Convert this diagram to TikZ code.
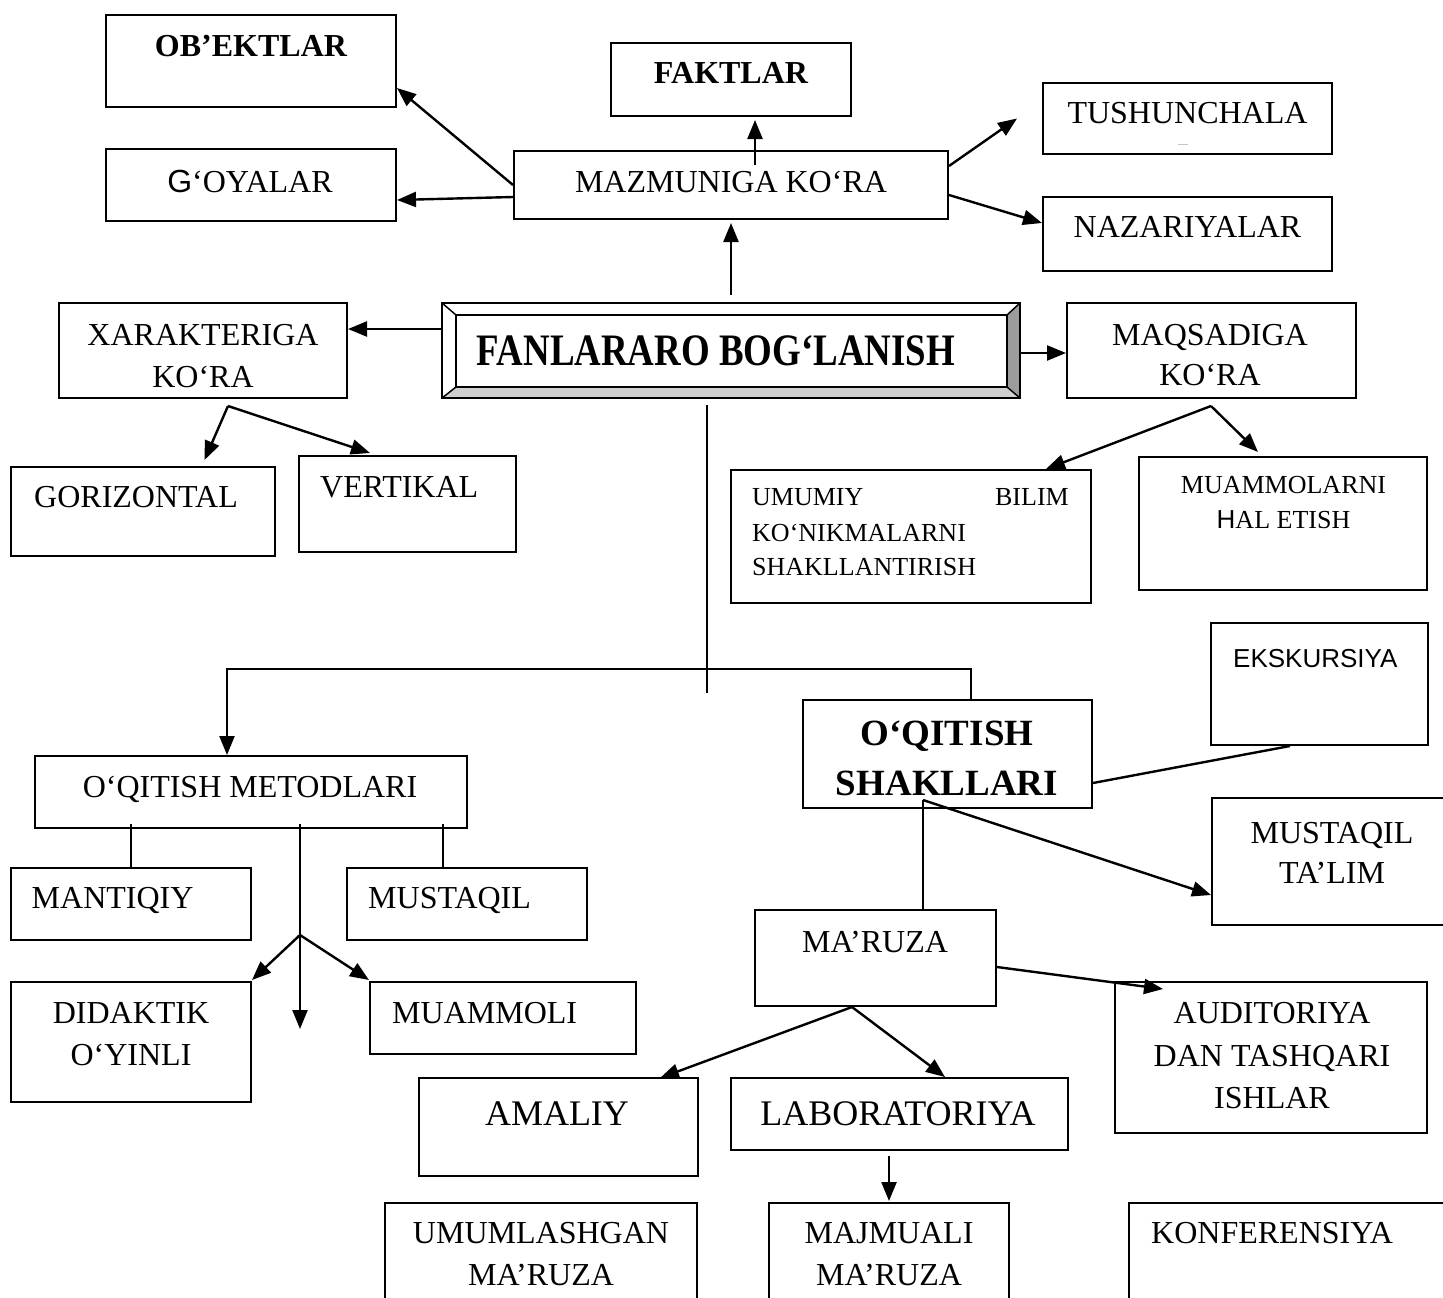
\documentclass[tikz,border=0pt]{standalone}
\usepackage{fontspec}
\usepackage{graphicx}
\setmainfont{Liberation Serif}
\setsansfont{Liberation Sans}
\usetikzlibrary{arrows.meta,fit}
\definecolor{bevdark}{HTML}{9C9C9C}
\definecolor{bevlight}{HTML}{D0D0D0}
\newcommand\fsN{\fontsize{32}{38}\selectfont}
\newcommand\fsS{\fontsize{26}{31}\selectfont}
\newcommand\fsL{\fontsize{36}{43}\selectfont}
\newcommand\fsB{\fontsize{37}{44}\selectfont\bfseries}
\newcommand\fsNB{\fontsize{32}{38}\selectfont\bfseries}
\tikzset{
  box/.style={draw, line width=2pt, inner sep=0pt},
  conn/.style={line width=2.4pt},
  arr/.style={conn, -{Triangle[length=19pt,width=15pt]}},
  txt/.style={inner sep=0pt, anchor=base, font=\fsN},
}
\newcommand\bx[5]{\node[box, fit={(#2,#3) (#4,#5)}] (#1) {};}
\begin{document}
\begin{tikzpicture}[x=1pt,y=-1pt]
\useasboundingbox (0,0) rectangle (1443,1298);
\clip (0,0) rectangle (1443,1298);
% ---------- boxes ----------
\bx{obek}{106}{15}{396}{107}
\bx{fakt}{611}{43}{851}{116}
\bx{tush}{1043}{83}{1332}{154}
\bx{goya}{106}{149}{396}{221}
\bx{mazm}{514}{151}{948}{219}
\bx{naza}{1043}{197}{1332}{271}
\bx{xar}{59}{303}{347}{398}
\bx{maq}{1067}{303}{1356}{398}
\bx{gor}{11}{467}{275}{556}
\bx{ver}{299}{456}{516}{552}
\bx{umu}{731}{470}{1091}{603}
\bx{muam}{1139}{457}{1427}{590}
\bx{eks}{1211}{623}{1428}{745}
\bx{shak}{803}{700}{1092}{808}
\bx{met}{35}{756}{467}{828}
\bx{man}{11}{868}{251}{940}
\bx{mus}{347}{868}{587}{940}
\bx{mta}{1212}{798}{1460}{925}
\bx{mar}{755}{910}{996}{1006}
\bx{did}{11}{982}{251}{1102}
\bx{muo}{370}{982}{636}{1054}
\bx{aud}{1115}{982}{1427}{1133}
\bx{ama}{419}{1078}{698}{1176}
\bx{lab}{731}{1078}{1068}{1150}
\bx{uml}{385}{1203}{697}{1320}
\bx{maj}{769}{1203}{1009}{1320}
\bx{kon}{1129}{1203}{1460}{1320}
% ---------- central bevelled box ----------
\node[inner sep=0pt, fit={(442,303) (1020,398)}] (fan) {};
\coordinate (fi1) at (456,315);
\coordinate (fi2) at (1007,315);
\coordinate (fi3) at (1007,387);
\coordinate (fi4) at (456,387);
\fill[white] (fan.north west) -- (fan.north east) -- (fi2) -- (fi1) -- cycle;
\fill[bevdark] (fan.north east) -- (fan.south east) -- (fi3) -- (fi2) -- cycle;
\fill[bevlight] (fan.south east) -- (fan.south west) -- (fi4) -- (fi3) -- cycle;
\draw[line width=2pt] (fan.north west) rectangle (fan.south east);
\draw[line width=2pt] (fi1) rectangle (fi3);
\draw[line width=1.5pt] (fan.north west) -- (fi1) (fan.north east) -- (fi2)
  (fan.south east) -- (fi3) (fan.south west) -- (fi4);
\node[txt, font=\fontsize{45}{54}\selectfont\bfseries] (fantext) at (716,365)
  {\scalebox{0.82}[1]{FANLARARO BOG‘LANISH}};
% ---------- texts ----------
\node[txt, font=\fsNB] (t-obek) at (251,57) {OB’EKTLAR};
\node[txt, font=\fsNB] (t-fakt) at (731,83) {FAKTLAR};
\node[txt] (t-tush) at (1187.5,123) {TUSHUNCHALA};
\draw[gray!45, line width=1pt] (1178,144) -- (1188,144);
\node[txt] (t-goya) at (250,192) {{\sffamily G}‘OYALAR};
\node[txt] (t-mazm) at (731,192) {MAZMUNIGA KO‘RA};
\node[txt] (t-naza) at (1187.5,237) {NAZARIYALAR};
\node[txt] (t-xar1) at (203,345) {XARAKTERIGA};
\node[txt] (t-xar2) at (203,387) {KO‘RA};
\node[txt] (t-maq1) at (1210,345) {MAQSADIGA};
\node[txt] (t-maq2) at (1210,385) {KO‘RA};
\node[txt, anchor=base west] (t-gor) at (34,507) {GORIZONTAL};
\node[txt, anchor=base west] (t-ver) at (320,497) {VERTIKAL};
\node[txt, font=\fsS, anchor=base west] (t-umu1) at (752,505.5) {UMUMIY};
\node[txt, font=\fsS, anchor=base east] (t-umu2) at (1069,505.5) {BILIM};
\node[txt, font=\fsS, anchor=base west] (t-umu3) at (752,541.5) {KO‘NIKMALARNI};
\node[txt, font=\fsS, anchor=base west] (t-umu4) at (752,575.5) {SHAKLLANTIRISH};
\node[txt, font=\fsS] (t-muam1) at (1283.5,493.5) {MUAMMOLARNI};
\node[txt, font=\fsS] (t-muam2) at (1283.5,528.5) {{\sffamily H}AL ETISH};
\node[txt, font=\fsS\sffamily, anchor=base west] (t-eks) at (1233,667) {EKSKURSIYA};
\node[txt, font=\fsB] (t-shak1) at (947,745) {O‘QITISH};
\node[txt, font=\fsB] (t-shak2) at (947,795) {SHAKLLARI};
\node[txt] (t-met) at (250,797) {O‘QITISH METODLARI};
\node[txt, anchor=base west] (t-man) at (31.5,908) {MANTIQIY};
\node[txt, anchor=base west] (t-mus) at (368,908) {MUSTAQIL};
\node[txt] (t-mta1) at (1332,843) {MUSTAQIL};
\node[txt] (t-mta2) at (1332,883) {TA’LIM};
\node[txt] (t-mar) at (875,952) {MA’RUZA};
\node[txt] (t-did1) at (131,1023) {DIDAKTIK};
\node[txt] (t-did2) at (131,1065) {O‘YINLI};
\node[txt, anchor=base west] (t-muo) at (392,1023) {MUAMMOLI};
\node[txt] (t-aud1) at (1272,1023) {AUDITORIYA};
\node[txt] (t-aud2) at (1272,1066) {DAN TASHQARI};
\node[txt] (t-aud3) at (1272,1108) {ISHLAR};
\node[txt, font=\fsL] (t-ama) at (557,1125) {AMALIY};
\node[txt, font=\fsL] (t-lab) at (898,1125) {LABORATORIYA};
\node[txt] (t-uml1) at (541,1243) {UMUMLASHGAN};
\node[txt] (t-uml2) at (541,1285) {MA’RUZA};
\node[txt] (t-maj1) at (889,1243) {MAJMUALI};
\node[txt] (t-maj2) at (889,1285) {MA’RUZA};
\node[txt, anchor=base west] (t-kon) at (1151,1243) {KONFERENSIYA};
% ---------- connectors ----------
\draw[arr] ([yshift=8pt]fan.north) -- ([yshift=-3pt]mazm.south);
\draw[arr] ([xshift=24pt,yshift=-15pt]mazm.north) -- ([xshift=24pt,yshift=-3pt]fakt.south);
\draw[arr] (mazm.west) -- ([yshift=20pt]obek.south east);
\draw[arr] ([yshift=-12pt]mazm.west) -- ([yshift=-15pt]goya.east);
\draw[arr] ([yshift=19pt]mazm.east) -- ([xshift=-25pt]tush.west);
\draw[arr] ([yshift=-10pt]mazm.east) -- ([yshift=11pt]naza.west);
\draw[arr] ([yshift=21.5pt]fan.west) -- ([yshift=21.5pt]xar.east);
\draw[arr] ([yshift=-2.5pt]fan.east) -- ([yshift=-2.5pt]maq.west);
\coordinate (xb) at (228,406);
\draw[arr] (xb) -- ([xshift=61.5pt,yshift=6pt]gor.north);
\draw[arr] (xb) -- ([xshift=-37.5pt,yshift=2pt]ver.north);
\coordinate (mb) at (1211,406);
\draw[arr] (mb) -- ([xshift=135pt]umu.north);
\draw[arr] (mb) -- ([xshift=-25pt,yshift=4pt]muam.north);
\coordinate (trunkend) at (707,693);
\draw[conn] ([xshift=-24pt,yshift=-7pt]fan.south) -- (trunkend);
\coordinate (hL) at (227,669);
\coordinate (hR) at (971,669);
\draw[arr] ([xshift=23.5pt]shak.north) -- (hR) -- (hL) -- ([xshift=-24pt]met.north);
\draw[conn] ([xshift=-120pt,yshift=5pt]met.south) -- (man.north);
\draw[conn] ([xshift=192pt,yshift=5pt]met.south) -- ([xshift=-24pt]mus.north);
\coordinate (mbr) at (300,935);
\coordinate (mdown) at (300,1029);
\draw[arr] ([xshift=49pt,yshift=5pt]met.south) -- (mdown);
\draw[arr] (mbr) -- ([yshift=1pt]did.north east);
\draw[arr] (mbr) -- ([yshift=1pt]muo.north west);
\draw[conn] ([yshift=-29pt]shak.east) -- ([xshift=-29.5pt]eks.south);
\draw[arr] ([xshift=-24.5pt,yshift=9pt]shak.south) -- ([yshift=-33.5pt]mta.west);
\draw[conn] ([xshift=-24.5pt,yshift=9pt]shak.south) -- ([xshift=47.5pt]mar.north);
\draw[arr] ([yshift=-9pt]mar.east) -- ([xshift=-108pt,yshift=-8pt]aud.north);
\draw[arr] ([xshift=-23.5pt]mar.south) -- ([xshift=101.5pt,yshift=-1pt]ama.north);
\draw[arr] ([xshift=-23.5pt]mar.south) -- ([xshift=45.5pt]lab.north);
\draw[arr] ([xshift=-10.5pt,yshift=-5pt]lab.south) -- ([yshift=1pt]maj.north);
\end{tikzpicture}
\end{document}
